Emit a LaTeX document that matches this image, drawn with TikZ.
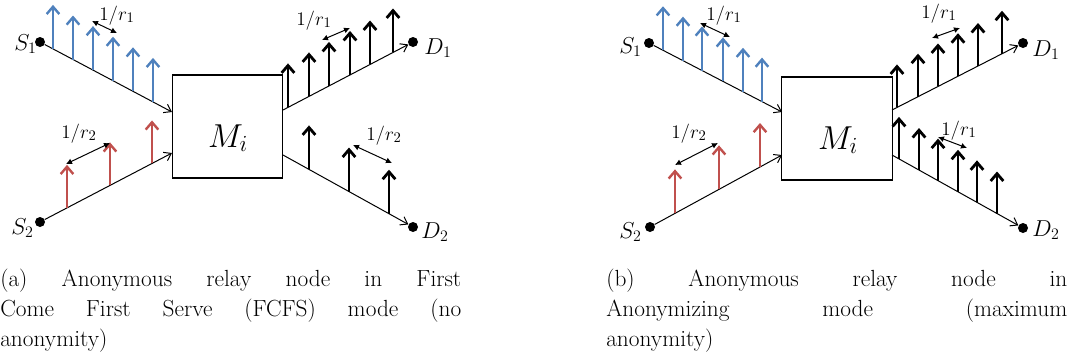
\documentclass[tikz,border=0pt]{standalone}
\usetikzlibrary{arrows.meta,calc}
\definecolor{pblue}{RGB}{79,129,189}
\definecolor{pred}{RGB}{192,80,77}
\begin{document}
\begin{tikzpicture}[x=0.75pt,y=-0.75pt,
  dot/.style={circle,fill=black,inner sep=0pt,minimum size=7.5pt},
  relay/.style={draw,line width=0.8pt,inner sep=0pt,minimum width=83pt,minimum height=77.25pt},
  conn/.style={line width=0.75pt,-{Straight Barb[length=5pt,width=7pt]}},
  gap/.style={line width=0.75pt,{Latex[length=4.5pt,width=4.5pt]}-{Latex[length=4.5pt,width=4.5pt]}},
  pkt/.style={line width=1.8pt,-{Straight Barb[length=5.5pt,width=9.5pt]}},
  pktk/.style={line width=2.1pt,-{Straight Barb[length=5.5pt,width=9.5pt]}},
  lbl/.style={inner sep=0pt,font=\fontsize{16.5}{18}\selectfont},
  rate/.style={inner sep=0pt,anchor=base west,font=\fontsize{15}{17}\selectfont},
  mlbl/.style={inner sep=0pt,anchor=base,font=\fontsize{24}{28}\selectfont},
  captext/.style={inner sep=0pt,anchor=north west,align=left,font=\fontsize{17.5}{22.5}\selectfont}]
\useasboundingbox (0,0) rectangle (1076,362);

% ---------------- panel (a) ----------------
\node[relay] (M1) at (227.5,126.5) {};
\node[mlbl] (M1l) at (228,147) {$M_i$};
\node[dot] (S1a) at (40,42) {};
\node[dot] (S2a) at (40,222) {};
\node[dot] (D1a) at (413,42) {};
\node[dot] (D2a) at (413,227) {};
\node[lbl,anchor=base east] (S1al) at (37,50) {$S_1$};
\node[lbl,anchor=base east] (S2al) at (34,234) {$S_2$};
\node[lbl,anchor=base west] (D1al) at (424,54) {$D_1$};
\node[lbl,anchor=base west] (D2al) at (421,238) {$D_2$};
\coordinate (m1a) at (172,112);
\coordinate (m1b) at (172,153);
\coordinate (m1c) at (283,110);
\coordinate (m1d) at (283,155);
\draw[conn] (S1a) -- (m1a);
\draw[conn] (S2a) -- (m1b);
\draw[conn] (m1c) -- (D1a);
\draw[conn] (m1d) -- (D2a);
\foreach \x in {53,73,93,113,133,153}
  \draw[pkt,pblue] (\x,{42+(\x-40)*70/132}) -- ++(0,-44);
\foreach \x in {67,110,152}
  \draw[pkt,pred] (\x,{222-(\x-40)*69/132}) -- ++(0,-43);
\foreach \x in {288,309,329,350,370,393}
  \draw[pktk] (\x,{110-(\x-283)*68/130}) -- ++(0,-44);
\foreach \x in {309,349,389}
  \draw[pktk] (\x,{155+(\x-283)*72/130}) -- ++(0,-44);
\coordinate (ga1) at (92,21);  \coordinate (gb1) at (117,33);
\coordinate (ga2) at (66,164); \coordinate (gb2) at (110,143);
\coordinate (ga3) at (322,40); \coordinate (gb3) at (350,28);
\coordinate (ga4) at (353,145);\coordinate (gb4) at (392,163);
\draw[gap] (ga1) -- (gb1);
\draw[gap] (ga2) -- (gb2);
\draw[gap] (ga3) -- (gb3);
\draw[gap] (ga4) -- (gb4);
\node[rate] (r1a) at (99,20) {$1/r_1$};
\node[rate] (r2a) at (61,138) {$1/r_2$};
\node[rate] (r3a) at (296,25) {$1/r_1$};
\node[rate] (r4a) at (366,140) {$1/r_2$};
\node[captext] (capa) at (0,269) {\makebox[345.75pt][s]{(a) Anonymous relay node in First}\\
  \makebox[345.75pt][s]{Come First Serve (FCFS) mode (no}\\
  anonymity)};

% ---------------- panel (b) ----------------
\node[relay] (M2) at (837,128.5) {};
\node[mlbl] (M2l) at (838,149) {$M_i$};
\node[dot] (S1b) at (649,43) {};
\node[dot] (S2b) at (650,227) {};
\node[dot] (D1b) at (1023,43) {};
\node[dot] (D2b) at (1023,228) {};
\node[lbl,anchor=base east] (S1bl) at (642,53) {$S_1$};
\node[lbl,anchor=base east] (S2bl) at (642,238) {$S_2$};
\node[lbl,anchor=base west] (D1bl) at (1032,56) {$D_1$};
\node[lbl,anchor=base west] (D2bl) at (1032,236) {$D_2$};
\coordinate (m2a) at (782,112);
\coordinate (m2b) at (782,155);
\coordinate (m2c) at (892,110);
\coordinate (m2d) at (892,155);
\draw[conn] (S1b) -- (m2a);
\draw[conn] (S2b) -- (m2b);
\draw[conn] (m2c) -- (D1b);
\draw[conn] (m2d) -- (D2b);
\foreach \x in {663,683,702,723,743,762}
  \draw[pkt,pblue] (\x,{43+(\x-649)*69/133}) -- ++(0,-44);
\foreach \x in {675,719,760}
  \draw[pkt,pred] (\x,{227-(\x-650)*72/132}) -- ++(0,-44);
\foreach \x in {897,918,938,958,978,1002}
  \draw[pktk] (\x,{110-(\x-892)*67/131}) -- ++(0,-43);
\foreach \x in {899,919,938,958,977,997}
  \draw[pktk] (\x,{155+(\x-892)*73/131}) -- ++(0,-42);
\coordinate (ha1) at (700,23);  \coordinate (hb1) at (730,37);
\coordinate (ha2) at (675,165); \coordinate (hb2) at (718,143);
\coordinate (ha3) at (932,38);  \coordinate (hb3) at (960,28);
\coordinate (ha4) at (938,137); \coordinate (hb4) at (967,148);
\draw[gap] (ha1) -- (hb1);
\draw[gap] (ha2) -- (hb2);
\draw[gap] (ha3) -- (hb3);
\draw[gap] (ha4) -- (hb4);
\node[rate] (r1b) at (706,20) {$1/r_1$};
\node[rate] (r2b) at (671,138) {$1/r_2$};
\node[rate] (r3b) at (921,18) {$1/r_1$};
\node[rate] (r4b) at (941,135) {$1/r_1$};
\node[captext] (capb) at (606,269) {\makebox[345.75pt][s]{(b) Anonymous relay node in}\\
  \makebox[345.75pt][s]{Anonymizing mode (maximum}\\
  anonymity)};
\end{tikzpicture}
\end{document}
